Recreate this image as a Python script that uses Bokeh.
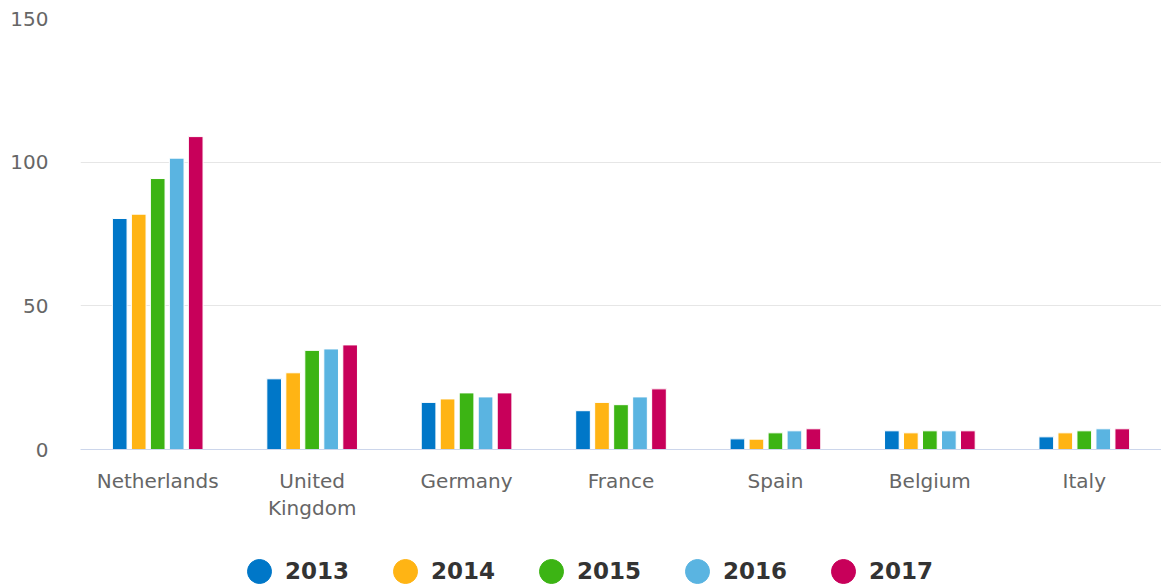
from bokeh.plotting import figure
from bokeh.layouts import column
from bokeh.models import (ColumnDataSource, FactorRange, Range1d, Legend, LegendItem,
                          FixedTicker, CategoricalAxis)
from bokeh.transform import dodge
from bokeh.embed import file_html
from bokeh.resources import INLINE

countries = ["Netherlands", "United Kingdom", "Germany", "France", "Spain", "Belgium", "Italy"]
label_line1 = ["Netherlands", "United", "Germany", "France", "Spain", "Belgium", "Italy"]
label_line2 = [" ", "Kingdom", "  ", "   ", "    ", "     ", "      "]
years = ["2013", "2014", "2015", "2016", "2017"]
v2013 = [80.4, 24.6, 16.4, 13.5, 3.7, 6.5, 4.4]
v2014 = [81.9, 26.7, 17.6, 16.4, 3.6, 5.8, 5.8]
v2015 = [94.3, 34.5, 19.7, 15.6, 5.8, 6.5, 6.5]
v2016 = [101.4, 35.0, 18.3, 18.3, 6.5, 6.5, 7.2]
v2017 = [108.9, 36.4, 19.7, 21.1, 7.2, 6.5, 7.2]
colors = ["#0077c8", "#ffb414", "#3cb414", "#5ab4e1", "#c8005a"]
y_ticks = [0, 50, 100, 150]

FONT = "DejaVu Sans"
source = ColumnDataSource(dict(country=countries, y2013=v2013, y2014=v2014,
                               y2015=v2015, y2016=v2016, y2017=v2017))

p = figure(width=1161, height=556, x_range=FactorRange(*countries, range_padding=0),
           y_range=Range1d(0, 150), output_backend="svg", toolbar_location=None,
           min_border_left=80, min_border_right=0, min_border_top=18, min_border_bottom=107)
p.outline_line_color = None
p.extra_x_ranges = {"l1": FactorRange(*label_line1, range_padding=0),
                    "l2": FactorRange(*label_line2, range_padding=0)}

offsets = [-0.246, -0.123, 0.0, 0.123, 0.246]
for yr, off, col in zip(years, offsets, colors):
    p.vbar(x=dodge("country", off, range=p.x_range), top="y" + yr, width=0.095,
           source=source, fill_color=col, line_color="white", line_width=1)

# y axis
p.yaxis.ticker = FixedTicker(ticks=y_ticks)
p.yaxis.axis_line_color = None
p.yaxis.major_tick_line_color = None
p.yaxis.major_tick_out = 0
p.yaxis.minor_tick_line_color = None
p.yaxis.major_label_standoff = 32
p.yaxis.major_label_text_font = FONT
p.yaxis.major_label_text_font_size = "20px"
p.yaxis.major_label_text_color = "#666666"

p.xaxis[0].visible = False

xa1 = CategoricalAxis(x_range_name="l1", axis_line_color="#ccd6eb",
                      major_tick_line_color=None, major_tick_out=0, major_tick_in=0,
                      minor_tick_line_color=None, major_label_standoff=19,
                      major_label_text_font=FONT, major_label_text_font_size="20px",
                      major_label_text_color="#666666")
p.add_layout(xa1, "below")
xa2 = CategoricalAxis(x_range_name="l2", axis_line_color=None,
                      major_tick_line_color=None, major_tick_out=0, major_tick_in=0,
                      minor_tick_line_color=None, major_label_standoff=0,
                      major_label_text_font=FONT, major_label_text_font_size="20px",
                      major_label_text_color="#666666")
p.add_layout(xa2, "below")

p.xgrid.grid_line_color = None
p.ygrid.grid_line_color = "#e6e6e6"
p.ygrid.ticker = FixedTicker(ticks=[50, 100, 150])

# legend strip
lf = figure(width=1161, height=30, x_range=Range1d(0, 1), y_range=Range1d(0, 1),
            output_backend="svg", toolbar_location=None, x_axis_type=None, y_axis_type=None,
            min_border_left=0, min_border_right=0, min_border_top=0, min_border_bottom=0)
lf.outline_line_color = None
lf.xgrid.grid_line_color = None
lf.ygrid.grid_line_color = None
items = []
for yr, col in zip(years, colors):
    r = lf.ellipse(x=[0.5], y=[-5], width=24, height=24,
                   width_units="screen", height_units="screen",
                   fill_color=col, line_color=col)
    items.append(LegendItem(label=yr, renderers=[r]))
legend = Legend(items=items, orientation="horizontal", location=(164, 0),
                glyph_width=30, glyph_height=30, label_standoff=11, spacing=41,
                padding=0, margin=0, border_line_color=None, background_fill_alpha=0,
                label_text_font=FONT, label_text_font_size="23px",
                label_text_font_style="bold", label_text_color="#333333",
                label_height=30)
lf.add_layout(legend, "center")

layout = column(p, lf, spacing=0)
open("out.html", "w").write(file_html(layout, INLINE))
